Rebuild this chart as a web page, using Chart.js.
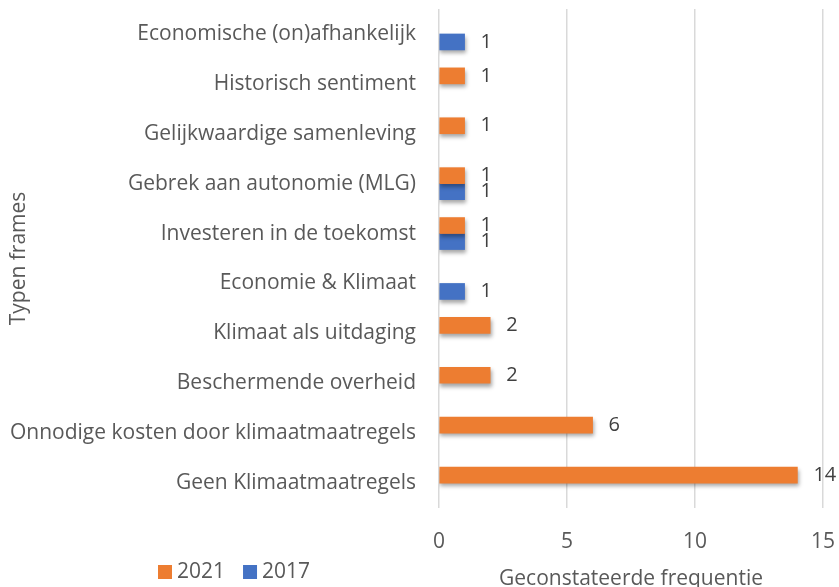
<!DOCTYPE html>
<html>
<head>
<meta charset="utf-8">
<script src="https://cdn.jsdelivr.net/npm/chart.js@4.4.1/dist/chart.umd.min.js"></script>
<style>
  html, body { margin: 0; padding: 0; background: #fff; }
  #wrap { width: 839px; height: 587px; position: relative; }
</style>
</head>
<body>
<div id="wrap"><canvas id="framesChart"></canvas></div>
<script>
const categories = [
    "Economische (on)afhankelijk",
    "Historisch sentiment",
    "Gelijkwaardige samenleving",
    "Gebrek aan autonomie (MLG)",
    "Investeren in de toekomst",
    "Economie & Klimaat",
    "Klimaat als uitdaging",
    "Beschermende overheid",
    "Onnodige kosten door klimaatmaatregels",
    "Geen Klimaatmaatregels"
];
const values2021 = [null, 1, 1, 1, 1, null, 2, 2, 6, 14];
const values2017 = [1, null, null, 1, 1, 1, null, null, null, null];
const xTicks = [0, 5, 10, 15];

const FONT = "'Open Sans', 'Liberation Sans', sans-serif";
const FS = 21;
const orange = '#ED7D31';
const blue = '#4472C4';

// verticale verloop in de balken (lichter boven, donkerder onder)
function barFill(light, dark, base) {
    return function (c) {
        const el = c.element;
        if (!el || !c.chart.chartArea || el.height === undefined) return base;
        const g = c.chart.ctx.createLinearGradient(0, el.y - 8, 0, el.y + 8);
        g.addColorStop(0, light);
        g.addColorStop(1, dark);
        return g;
    };
}

// schaduw onder de balken + waardelabels + legenda linksonder
const barExtras = {
    id: 'barExtras',
    beforeDatasetsDraw(chart) {
        const ctx = chart.ctx;
        ctx.save();
        ctx.shadowColor = 'rgba(0,0,0,0.35)';
        ctx.shadowBlur = 4;
        ctx.shadowOffsetX = 1;
        ctx.shadowOffsetY = 3;
    },
    afterDatasetsDraw(chart) {
        const ctx = chart.ctx;
        ctx.restore();
        ctx.save();
        ctx.font = `20px ${FONT}`;
        ctx.fillStyle = '#404040';
        ctx.textAlign = 'left';
        ctx.textBaseline = 'middle';
        chart.data.datasets.forEach((ds, i) => {
            const meta = chart.getDatasetMeta(i);
            meta.data.forEach((bar, j) => {
                const v = ds.data[j];
                if (v === null || v === undefined) return;
                ctx.fillText(String(v), bar.x + 16, bar.y);
            });
        });
        ctx.restore();
    },
    afterDraw(chart) {
        const ctx = chart.ctx;
        ctx.save();
        ctx.font = `${FS}px ${FONT}`;
        ctx.textBaseline = 'middle';
        ctx.textAlign = 'left';
        let x = 158;
        const y = 572;
        chart.data.datasets.forEach(ds => {
            ctx.fillStyle = ds.borderColor;
            ctx.fillRect(x, y - 7, 14, 14);
            ctx.fillStyle = '#595959';
            ctx.fillText(ds.label, x + 19, y);
            x += 19 + ctx.measureText(ds.label).width + 18;
        });
        ctx.restore();
    }
};

const ctx = document.getElementById('framesChart').getContext('2d');
new Chart(ctx, {
    type: 'bar',
    data: {
        labels: categories,
        datasets: [
            { label: '2021', data: values2021, borderColor: orange, borderWidth: 0,
              backgroundColor: barFill('#F4914F', '#E8731F', orange), barThickness: 16 },
            { label: '2017', data: values2017, borderColor: blue, borderWidth: 0,
              backgroundColor: barFill('#5582D2', '#3563B8', blue), barThickness: 16 }
        ]
    },
    options: {
        indexAxis: 'y',
        responsive: true,
        maintainAspectRatio: false,
        animation: false,
        layout: { padding: { left: 0, right: 16, top: 9, bottom: 0 } },
        plugins: {
            legend: { display: false },
            tooltip: { enabled: false }
        },
        scales: {
            x: {
                min: 0,
                max: 15,
                afterBuildTicks(scale) {
                    scale.ticks = xTicks.map(v => ({ value: v }));
                },
                afterFit(scale) {
                    scale.height = 79;
                    scale.paddingLeft = 0;
                    scale.paddingRight = 0;
                },
                grid: { color: '#D9D9D9', lineWidth: 1.5, drawTicks: false },
                border: { display: false },
                ticks: {
                    padding: 21,
                    color: '#595959',
                    font: { family: FONT, size: FS }
                },
                title: {
                    display: true,
                    text: 'Geconstateerde frequentie',
                    color: '#595959',
                    font: { family: FONT, size: FS },
                    padding: { top: 0, bottom: -5 }
                }
            },
            y: {
                afterFit(scale) {
                    scale.width = 439;
                    scale.paddingTop = 0;
                    scale.paddingBottom = 0;
                },
                grid: { display: false },
                border: { display: false },
                ticks: {
                    padding: 15,
                    color: '#595959',
                    font: { family: FONT, size: FS }
                },
                title: {
                    display: true,
                    text: 'Typen frames',
                    color: '#595959',
                    font: { family: FONT, size: FS },
                    padding: { top: 6, bottom: 0 }
                }
            }
        }
    },
    plugins: [barExtras]
});
</script>
</body>
</html>
